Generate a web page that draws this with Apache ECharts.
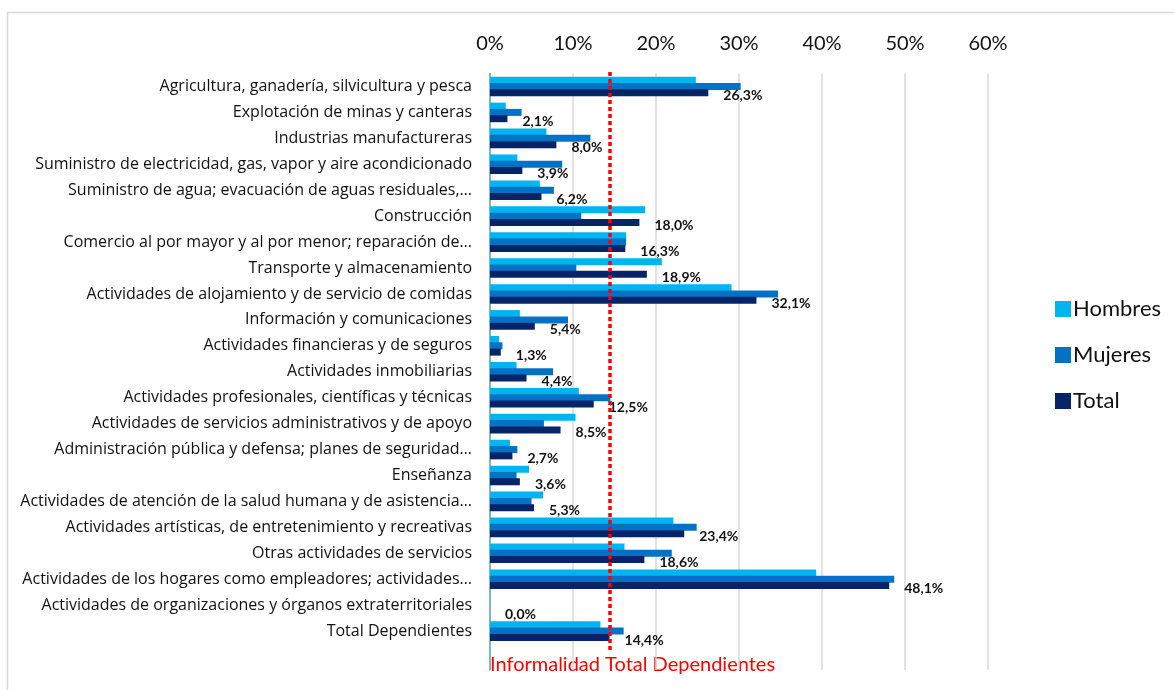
<!DOCTYPE html>
<html>
<head>
<meta charset="utf-8">
<script src="https://cdn.jsdelivr.net/npm/echarts@6/dist/echarts.min.js"></script>
<style>
  html, body { margin: 0; padding: 0; background: #fff; }
  #chart { width: 1174px; height: 690px; }
</style>
</head>
<body>
<div id="chart"></div>
<script>
// categorías (etiquetas tal como aparecen recortadas en el gráfico)
var categories = [
  "Agricultura, ganadería, silvicultura y pesca",
  "Explotación de minas y canteras",
  "Industrias manufactureras",
  "Suministro de electricidad, gas, vapor y aire acondicionado",
  "Suministro de agua; evacuación de aguas residuales,…",
  "Construcción",
  "Comercio al por mayor y al por menor; reparación de…",
  "Transporte y almacenamiento",
  "Actividades de alojamiento y de servicio de comidas",
  "Información y comunicaciones",
  "Actividades financieras y de seguros",
  "Actividades inmobiliarias",
  "Actividades profesionales, científicas y técnicas",
  "Actividades de servicios administrativos y de apoyo",
  "Administración pública y defensa; planes de seguridad…",
  "Enseñanza",
  "Actividades de atención de la salud humana y de asistencia…",
  "Actividades artísticas, de entretenimiento y recreativas",
  "Otras actividades de servicios",
  "Actividades de los hogares como empleadores; actividades…",
  "Actividades de organizaciones y órganos extraterritoriales",
  "Total Dependientes"
];
var hombres = [24.8, 1.9, 6.8, 3.3, 6.0, 18.7, 16.4, 20.7, 29.1, 3.6, 1.1, 3.2, 10.7, 10.3, 2.4, 4.7, 6.4, 22.1, 16.2, 39.3, 0.0, 13.3];
var mujeres = [30.2, 3.8, 12.1, 8.7, 7.7, 11.0, 16.4, 10.4, 34.7, 9.4, 1.5, 7.6, 14.5, 6.5, 3.3, 3.2, 5.0, 24.9, 21.9, 48.7, 0.0, 16.1];
var total = [26.3, 2.1, 8.0, 3.9, 6.2, 18.0, 16.3, 18.9, 32.1, 5.4, 1.3, 4.4, 12.5, 8.5, 2.7, 3.6, 5.3, 23.4, 18.6, 48.1, 0.0, 14.4];
var informalidadTotal = 14.4;
var refLabel = "Informalidad Total Dependientes";

var font = "Lato, 'Open Sans', sans-serif";
var myChart = echarts.init(document.getElementById("chart"));

// fila vacía al final: el eje se extiende por debajo de la última categoría
var yCats = categories.concat([""]);

var barStyle = { barWidth: 7, barGap: "-10%" };

var option = {
  animation: false,
  textStyle: { fontFamily: font },
  grid: { left: 490, right: 186, top: 73.5, bottom: 20 },
  legend: {
    orient: "vertical",
    left: 1050,
    top: 293,
    itemWidth: 16,
    itemHeight: 16,
    itemGap: 24,
    icon: "rect",
    textStyle: { fontSize: 22, color: "#111", fontFamily: font, padding: [0, 0, 0, -3] },
    data: ["Hombres", "Mujeres", "Total"]
  },
  xAxis: {
    type: "value",
    position: "top",
    min: 0,
    max: 60,
    interval: 10,
    axisLine: { show: false },
    axisTick: { show: false },
    axisLabel: {
      fontSize: 20,
      color: "#111",
      margin: 20,
      formatter: function (v) { return v + "%"; }
    },
    splitLine: { lineStyle: { color: "#d9d9d9", width: 1.5 } }
  },
  yAxis: {
    type: "category",
    inverse: true,
    data: yCats,
    axisLine: { lineStyle: { color: "#62aaa8", width: 1.5 } },
    axisTick: { show: false },
    axisLabel: { fontSize: 16, color: "#111", margin: 18, interval: 0, fontFamily: "'Open Sans', sans-serif" }
  },
  graphic: [
    {
      type: "rect",
      shape: { x: 7.5, y: 12.5, width: 1200, height: 700 },
      style: { fill: "none", stroke: "#d9d9d9", lineWidth: 1.5 },
      silent: true
    },
    {
      type: "text",
      left: 490,
      top: 655,
      style: { text: refLabel, fill: "#ff0000", fontSize: 20, fontFamily: font }
    }
  ],
  series: [
    Object.assign({ name: "Hombres", type: "bar", data: hombres, itemStyle: { color: "#00b4f0" } }, barStyle),
    Object.assign({ name: "Mujeres", type: "bar", data: mujeres, itemStyle: { color: "#0472c4" } }, barStyle),
    Object.assign({
      name: "Total",
      type: "bar",
      data: total,
      itemStyle: { color: "#062466" },
      label: {
        show: true,
        position: "right",
        distance: 15,
        offset: [0, 3],
        fontSize: 14,
        fontWeight: "bold",
        color: "#111",
        formatter: function (p) { return p.value.toFixed(1).replace(".", ",") + "%"; }
      }
    }, barStyle)
  ]
};
myChart.setOption(option);

// línea punteada roja de la informalidad total, ubicada con la escala del eje
var lineX = myChart.convertToPixel({ xAxisIndex: 0 }, informalidadTotal);
myChart.setOption({
  series: [{}, {}, {
    markLine: {
      silent: true,
      symbol: "none",
      label: { show: false },
      lineStyle: { color: "#ff0000", type: [4, 3], width: 3.5 },
      data: [[{ x: lineX, y: 72 }, { x: lineX, y: 651 }]]
    }
  }]
});
</script>
</body>
</html>
